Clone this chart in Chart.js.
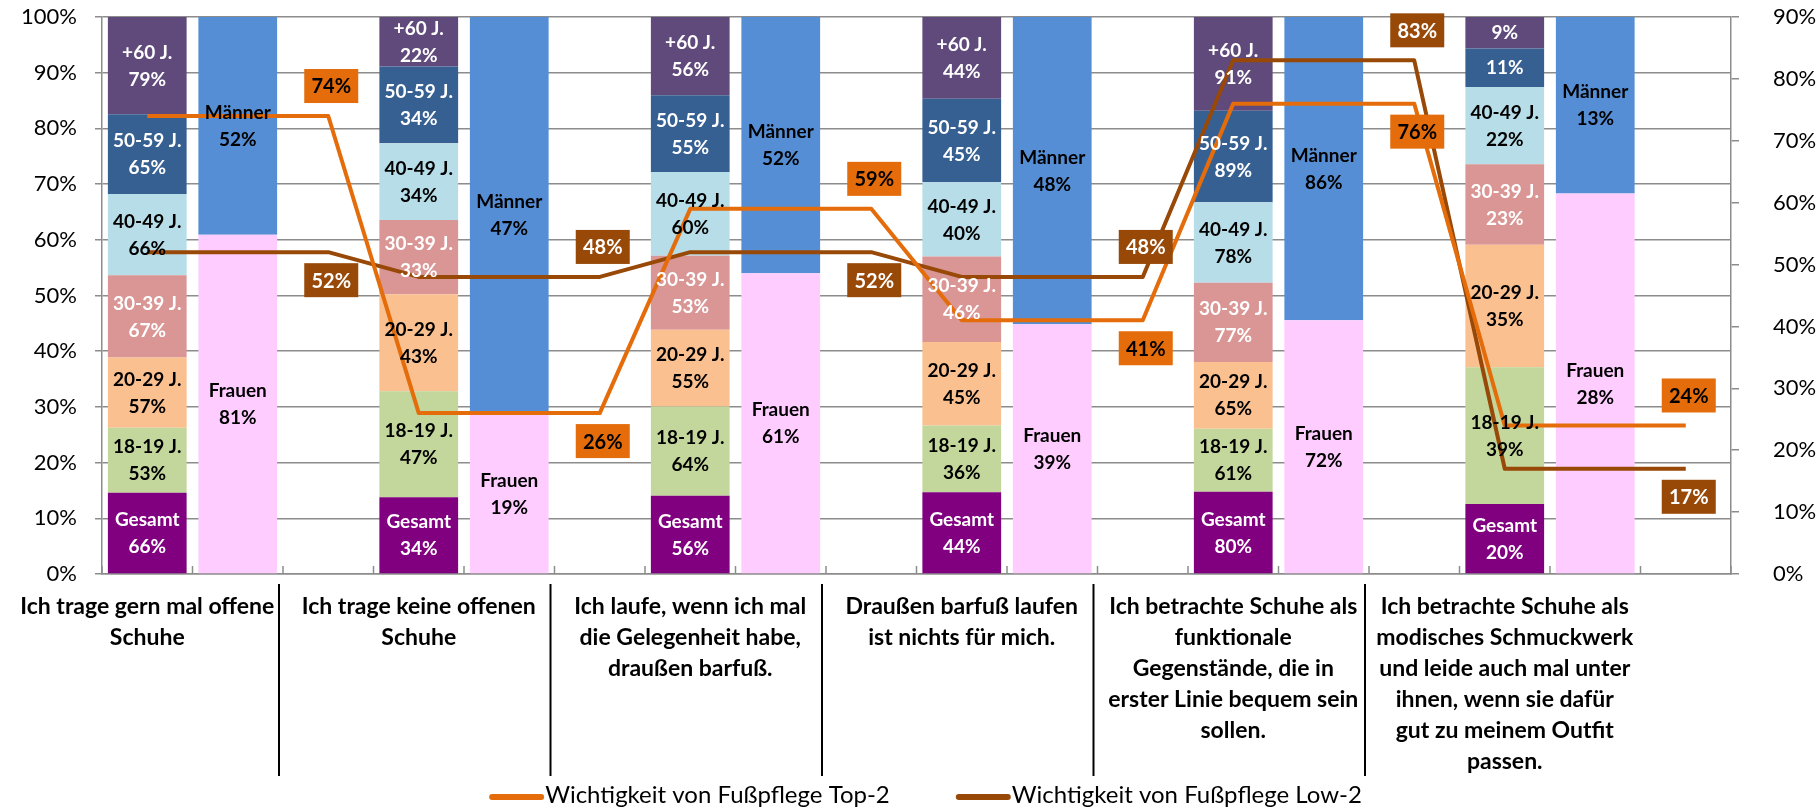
<!DOCTYPE html>
<html>
<head>
<meta charset="utf-8">
<script src="https://cdn.jsdelivr.net/npm/chart.js@4.4.0/dist/chart.umd.min.js"></script>
<style>
  html, body { margin: 0; padding: 0; background: #fff; }
</style>
</head>
<body>
<canvas id="chart" width="1820" height="808"></canvas>
<script>
// statements on the x axis (already broken into lines like the original)
const categories = [
  ['Ich trage gern mal offene', 'Schuhe'],
  ['Ich trage keine offenen', 'Schuhe'],
  ['Ich laufe, wenn ich mal', 'die Gelegenheit habe,', 'draußen barfuß.'],
  ['Draußen barfuß laufen', 'ist nichts für mich.'],
  ['Ich betrachte Schuhe als', 'funktionale', 'Gegenstände, die in', 'erster Linie bequem sein', 'sollen.'],
  ['Ich betrachte Schuhe als', 'modisches Schmuckwerk', 'und leide auch mal unter', 'ihnen, wenn sie dafür', 'gut zu meinem Outfit', 'passen.']
]

// agreement per age group, one value per statement
const gesamt  = [66, 34, 56, 44, 80, 20]
const age1819 = [53, 47, 64, 36, 61, 39]
const age2029 = [57, 43, 55, 45, 65, 35]
const age3039 = [67, 33, 53, 46, 77, 23]
const age4049 = [66, 34, 60, 40, 78, 22]
const age5059 = [65, 34, 55, 45, 89, 11]
const age60   = [79, 22, 56, 44, 91, 9]

// agreement per gender
const frauen  = [81, 19, 61, 39, 72, 28]
const maenner = [52, 47, 52, 48, 86, 13]

// lines on the right axis
const top2 = [74, 26, 59, 41, 76, 24]
const low2 = [52, 48, 52, 48, 83, 17]

const leftTicks = [0, 10, 20, 30, 40, 50, 60, 70, 80, 90, 100]
const rightTicks = [0, 10, 20, 30, 40, 50, 60, 70, 80, 90]

const FONT = 'Lato'
Chart.defaults.font.family = FONT

// each statement gets 3 slots: age bar, gender bar, empty
const slotLabels = categories.flatMap(c => [c, '', ''])

const ageSeries = [
  {label: 'Gesamt',   values: gesamt,  color: '#800080', text: '#ffffff'},
  {label: '18-19 J.', values: age1819, color: '#c3d69b', text: '#000000'},
  {label: '20-29 J.', values: age2029, color: '#fac090', text: '#000000'},
  {label: '30-39 J.', values: age3039, color: '#d99694', text: '#ffffff'},
  {label: '40-49 J.', values: age4049, color: '#b7dde8', text: '#000000'},
  {label: '50-59 J.', values: age5059, color: '#376092', text: '#ffffff'},
  {label: '+60 J.',   values: age60,   color: '#604a7b', text: '#ffffff'}
]
const genderSeries = [
  {label: 'Frauen', values: frauen,  color: '#ffccff', text: '#000000'},
  {label: 'Männer', values: maenner, color: '#558ed5', text: '#000000'}
]

const ageSums = categories.map((c, i) => ageSeries.reduce((s, a) => s + a.values[i], 0))
const genderSums = categories.map((c, i) => genderSeries.reduce((s, g) => s + g.values[i], 0))

// 100% stacked: share of the column sum, put into the right slot
const toSlots = (values, sums, slot) => {
  const out = []
  categories.forEach((c, i) => {
    for (let k = 0; k < 3; k++) {
      out.push(k === slot ? values[i] / sums[i] * 100 : null)
    }
  })
  return out
}

const barDataset = (s, sums, slot) => ({
  type: 'bar',
  label: s.label,
  data: toSlots(s.values, sums, slot),
  raw: s.values,
  textColor: s.text,
  backgroundColor: s.color,
  borderWidth: 0,
  yAxisID: 'y',
  stack: 'all',
  order: 2,
  categoryPercentage: 1,
  barPercentage: 0.87
})

const lineDataset = (label, values, color, text) => ({
  type: 'line',
  label: label,
  data: categories.flatMap((c, i) => [values[i], values[i], values[i]]),
  raw: values,
  borderColor: color,
  backgroundColor: color,
  textColor: text,
  borderWidth: 4,
  pointRadius: 0,
  tension: 0,
  borderJoinStyle: 'round',
  yAxisID: 'y2',
  order: 1
})

const datasets = [
  ...ageSeries.map(s => barDataset(s, ageSums, 0)),
  ...genderSeries.map(s => barDataset(s, genderSums, 1)),
  lineDataset('Wichtigkeit von Fußpflege Top-2', top2, '#e46c0a', '#000000'),
  lineDataset('Wichtigkeit von Fußpflege Low-2', low2, '#984807', '#ffffff')
]

// y axes: keep the plot top where the original has it
const noLabelPadding = s => {
  s.paddingTop = 0
  s.paddingBottom = 0
}

// labels, line boxes, separators and legend
const decorations = {
  id: 'decorations',
  afterDatasetsDraw(chart) {
    const ctx = chart.ctx
    ctx.save()
    ctx.textAlign = 'center'
    ctx.textBaseline = 'middle'
    ctx.font = 'bold 19px ' + FONT

    chart.data.datasets.forEach((ds, di) => {
      if (ds.type !== 'bar') return
      const meta = chart.getDatasetMeta(di)
      meta.data.forEach((bar, j) => {
        if (ds.data[j] == null) return
        const i = Math.floor(j / 3)
        const h = Math.abs(bar.base - bar.y)
        const cy = (bar.y + bar.base) / 2
        ctx.fillStyle = ds.textColor
        const val = ds.raw[i] + '%'
        if (h > 44) {
          ctx.fillText(ds.label, bar.x, cy - 13)
          ctx.fillText(val, bar.x, cy + 14)
        } else {
          ctx.fillText(val, bar.x, cy)
        }
      })
    })

    // value boxes of the two lines, on the empty slot
    const lines = chart.data.datasets
      .map((ds, di) => ({ds, meta: chart.getDatasetMeta(di)}))
      .filter(o => o.ds.type === 'line')
    ctx.font = 'bold 20px ' + FONT
    categories.forEach((c, i) => {
      const j = i * 3 + 2
      lines.forEach((o, k) => {
        const other = lines[1 - k]
        const above = o.ds.raw[i] >= other.ds.raw[i]
        const pt = o.meta.data[j]
        const bx = pt.x + 3
        const by = pt.y + (above ? -30 : 28)
        ctx.fillStyle = o.ds.borderColor
        ctx.fillRect(bx - 27, by - 17, 54, 34)
        ctx.fillStyle = o.ds.textColor
        ctx.fillText(o.ds.raw[i] + '%', bx, by + 1)
      })
    })
    ctx.restore()
  },
  afterDraw(chart) {
    const ctx = chart.ctx
    const area = chart.chartArea
    const xs = chart.scales.x
    const slotW = (area.right - area.left) / slotLabels.length
    ctx.save()

    // small inner ticks on the category axis
    ctx.strokeStyle = '#8c8c8c'
    ctx.lineWidth = 1.5
    for (let b = 0; b <= slotLabels.length; b++) {
      const x = area.left + b * slotW
      ctx.beginPath()
      ctx.moveTo(x, area.bottom)
      ctx.lineTo(x, area.bottom - 8)
      ctx.stroke()
    }

    // black separators between statements
    ctx.strokeStyle = '#000000'
    ctx.lineWidth = 2
    for (let k = 0; k < categories.length - 1; k++) {
      const x = (xs.getPixelForValue(k * 3 + 1) + xs.getPixelForValue(k * 3 + 2)) / 2 - 4
      ctx.beginPath()
      ctx.moveTo(x, area.bottom + 10)
      ctx.lineTo(x, area.bottom + 202)
      ctx.stroke()
    }

    // legend (line series only)
    const items = chart.data.datasets.filter(ds => ds.type === 'line')
    ctx.font = '24px ' + FONT
    ctx.textBaseline = 'middle'
    ctx.textAlign = 'left'
    const sample = 58
    const gap = 64
    const widths = items.map(ds => sample + ctx.measureText(ds.label).width)
    const total = widths.reduce((a, b) => a + b, 0) + gap * (items.length - 1)
    let x = (area.left + area.right) / 2 + 10 - total / 2
    const y = chart.height - 13
    items.forEach((ds, k) => {
      ctx.strokeStyle = ds.borderColor
      ctx.lineWidth = 6
      ctx.lineCap = 'round'
      ctx.beginPath()
      ctx.moveTo(x + 3, y + 2)
      ctx.lineTo(x + sample - 6, y + 2)
      ctx.stroke()
      ctx.fillStyle = '#000000'
      ctx.fillText(ds.label, x + sample - 2, y)
      x += widths[k] + gap
    })
    ctx.restore()
  }
}

new Chart(document.getElementById('chart'), {
  data: {
    labels: slotLabels,
    datasets: datasets
  },
  options: {
    responsive: false,
    animation: false,
    devicePixelRatio: 1,
    layout: {padding: {top: 17, left: 0, right: 0, bottom: 0}},
    plugins: {
      legend: {display: false},
      tooltip: {enabled: false}
    },
    scales: {
      x: {
        stacked: true,
        offset: true,
        grid: {drawOnChartArea: false, drawTicks: false},
        border: {color: '#8c8c8c', width: 1.5},
        ticks: {
          autoSkip: false,
          maxRotation: 0,
          minRotation: 0,
          padding: 17,
          color: '#000000',
          font: {family: FONT, size: 23, weight: 'bold', lineHeight: 1.35}
        },
        afterFit: s => { s.height = 234 }
      },
      y: {
        stacked: true,
        position: 'left',
        min: 0,
        max: 100,
        afterBuildTicks: s => { s.ticks = leftTicks.map(v => ({value: v})) },
        grid: {color: '#8c8c8c', lineWidth: 1.5, tickLength: 7},
        border: {color: '#8c8c8c', width: 1.5},
        ticks: {
          padding: 18,
          color: '#000000',
          font: {family: FONT, size: 22},
          callback: v => v + '%'
        },
        afterFit: s => { s.width = 102; noLabelPadding(s) }
      },
      y2: {
        position: 'right',
        min: 0,
        max: 90,
        afterBuildTicks: s => { s.ticks = rightTicks.map(v => ({value: v})) },
        grid: {drawOnChartArea: false, color: '#8c8c8c', lineWidth: 1.5, tickLength: 8},
        border: {color: '#8c8c8c', width: 1.5},
        ticks: {
          padding: 34,
          color: '#000000',
          font: {family: FONT, size: 22},
          callback: v => v + '%'
        },
        afterFit: s => { s.width = 89; noLabelPadding(s) }
      }
    }
  },
  plugins: [decorations]
})
</script>
</body>
</html>
